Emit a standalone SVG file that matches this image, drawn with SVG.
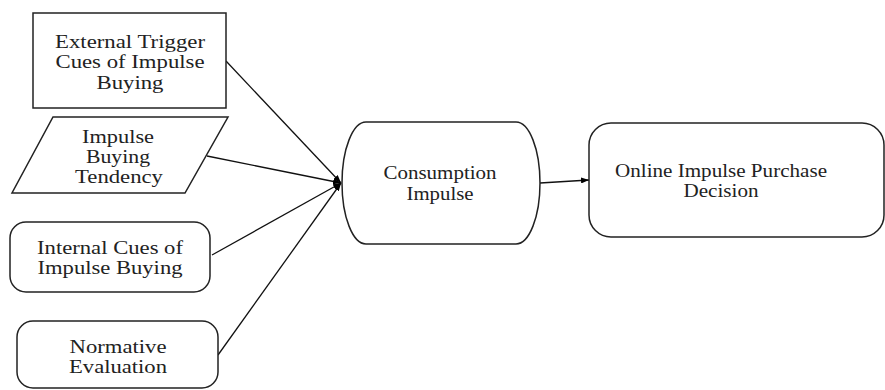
<svg xmlns="http://www.w3.org/2000/svg" width="885" height="390" viewBox="0 0 885 390">
<defs>
<marker id="ah" markerWidth="8" markerHeight="6" refX="8" refY="3" orient="auto" markerUnits="userSpaceOnUse">
<path d="M0,0 L8,3 L0,6 Z" fill="#000"/>
</marker>
</defs>
<style>
.n{fill:#fff;stroke:#222;stroke-width:1.5}
.t{font-family:"Liberation Serif","Times New Roman",serif;font-size:19px;fill:#222;text-anchor:middle}
.c{stroke:#111;stroke-width:1.3;fill:none;marker-end:url(#ah)}
</style>
<rect width="885" height="390" fill="#fff"/>
<g id="connectors">
<line class="c" x1="226" y1="61" x2="341" y2="183"/>
<line class="c" x1="207" y1="156" x2="341" y2="183"/>
<line class="c" x1="212" y1="255" x2="341" y2="183"/>
<line class="c" x1="218" y1="355" x2="341" y2="183"/>
<line class="c" x1="540" y1="183" x2="589" y2="180"/>
</g>
<g id="external">
<rect class="n" x="33" y="13" width="193" height="95"/>
<text class="t" x="130" y="48" textLength="150" lengthAdjust="spacingAndGlyphs">External Trigger</text>
<text class="t" x="130" y="68" textLength="149" lengthAdjust="spacingAndGlyphs">Cues of Impulse</text>
<text class="t" x="130" y="89" textLength="67" lengthAdjust="spacingAndGlyphs">Buying</text>
</g>
<g id="tendency">
<polygon class="n" points="53,117 228,117 185,193 12,193"/>
<text class="t" x="118" y="143" textLength="72" lengthAdjust="spacingAndGlyphs">Impulse</text>
<text class="t" x="118" y="163" textLength="64" lengthAdjust="spacingAndGlyphs">Buying</text>
<text class="t" x="119" y="183" textLength="88" lengthAdjust="spacingAndGlyphs">Tendency</text>
</g>
<g id="internal">
<rect class="n" x="10" y="222" width="200" height="70" rx="16"/>
<text class="t" x="110" y="254" textLength="146" lengthAdjust="spacingAndGlyphs">Internal Cues of</text>
<text class="t" x="110" y="274" textLength="145" lengthAdjust="spacingAndGlyphs">Impulse Buying</text>
</g>
<g id="normative">
<rect class="n" x="17" y="321" width="201" height="67" rx="16"/>
<text class="t" x="118" y="353" textLength="97" lengthAdjust="spacingAndGlyphs">Normative</text>
<text class="t" x="118" y="373" textLength="98" lengthAdjust="spacingAndGlyphs">Evaluation</text>
</g>
<g id="consumption">
<rect class="n" x="342" y="122" width="198" height="122" rx="24" ry="61"/>
<text class="t" x="440" y="179" textLength="113" lengthAdjust="spacingAndGlyphs">Consumption</text>
<text class="t" x="440" y="200" textLength="67" lengthAdjust="spacingAndGlyphs">Impulse</text>
</g>
<g id="decision">
<rect class="n" x="589" y="123" width="295" height="114" rx="22"/>
<text class="t" x="721" y="177" textLength="212" lengthAdjust="spacingAndGlyphs">Online Impulse Purchase</text>
<text class="t" x="721" y="197" textLength="75" lengthAdjust="spacingAndGlyphs">Decision</text>
</g>
</svg>
